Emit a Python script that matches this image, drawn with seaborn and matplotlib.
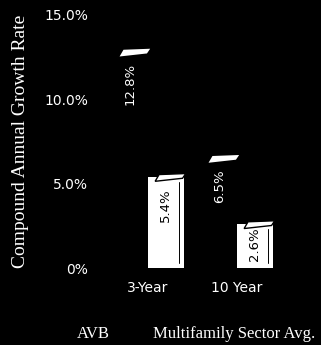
import matplotlib
matplotlib.use("Agg")
import matplotlib.pyplot as plt
from matplotlib.patches import Polygon
import seaborn as sns
import pandas as pd

# Compound annual growth rates, AVB vs. multifamily sector average
periods = ["3-Year", "10 Year"]
series_names = ["AVB", "Multifamily Sector Avg."]
avb_rates = [12.8, 6.5]
sector_rates = [5.4, 2.6]
y_ticks = [0, 5, 10, 15]
y_tick_labels = ["0%", "5.0%", "10.0%", "15.0%"]

df = pd.DataFrame({
    "period": periods * 2,
    "series": [series_names[0]] * len(periods) + [series_names[1]] * len(periods),
    "rate": avb_rates + sector_rates,
})

sns.set_theme(style="dark")
plt.rcParams["font.family"] = ["DejaVu Sans"]

fig = plt.figure(figsize=(3.21, 3.45), dpi=100, facecolor="black")
ax = fig.add_axes([95 / 321, 77 / 345, 205 / 321, 253 / 345], facecolor="black")

palette = {series_names[0]: "black", series_names[1]: "white"}
sns.barplot(data=df, x="period", y="rate", hue="series", hue_order=series_names,
            order=periods, palette=palette, width=0.8, saturation=1,
            linewidth=0, edgecolor="none", legend=False, ax=ax)

ax.set_ylim(0, 15)
ax.set_xlim(-0.596, 1.708)
ax.set_yticks(y_ticks)
ax.set_yticklabels(y_tick_labels)
ax.tick_params(axis="both", length=0, colors="white", labelsize=10)
ax.tick_params(axis="y", pad=5)
ax.tick_params(axis="x", pad=9)
ax.grid(False)
for s in ax.spines.values():
    s.set_visible(False)
ax.set_xlabel("")
ax.set_ylabel("Compound Annual Growth Rate", family="Liberation Serif",
              fontsize=14, color="white", labelpad=11)

# slanted top face of each bar, box shading, and a rotated value label inside
label_colors = {0: "white", 1: "black"}
for i, container in enumerate(ax.containers):
    for patch, val in zip(container.patches, container.datavalues):
        x0 = patch.get_x()
        w = patch.get_width()
        x1 = x0 + w
        h = patch.get_height()
        cap = Polygon([(x0 + 0.2 * w, h - 0.26), (x1 - 0.03 * w, h - 0.08),
                       (x1 + 0.06 * w, h + 0.2), (x0 + 0.31 * w, h + 0.14)],
                      closed=True, facecolor="white",
                      edgecolor="black" if i == 1 else "none",
                      linewidth=1.0, zorder=3)
        ax.add_patch(cap)
        if i == 1:
            # edge between front and side faces of the white box
            ax.plot([x1 - 0.12 * w, x1 - 0.12 * w], [h - 0.3, 0.3],
                    color="black", linewidth=0.7, zorder=3)
        # short bars keep their label tucked closer to the top
        drop = -8 if h > 4 else -2.5
        ax.annotate(f"{val:.1f}%", xy=(x0 + w / 2, h), xytext=(0, drop),
                    textcoords="offset points", rotation=90, ha="center",
                    va="top", fontsize=9.5, color=label_colors[i], zorder=4)

fig.text(77 / 321, 1 - 334 / 345, series_names[0], family="Liberation Serif",
         fontsize=12, color="white", ha="left", va="center")
fig.text(153 / 321, 1 - 334 / 345, series_names[1], family="Liberation Serif",
         fontsize=12, color="white", ha="left", va="center")

fig.savefig("out.png", dpi=100, facecolor="black")
